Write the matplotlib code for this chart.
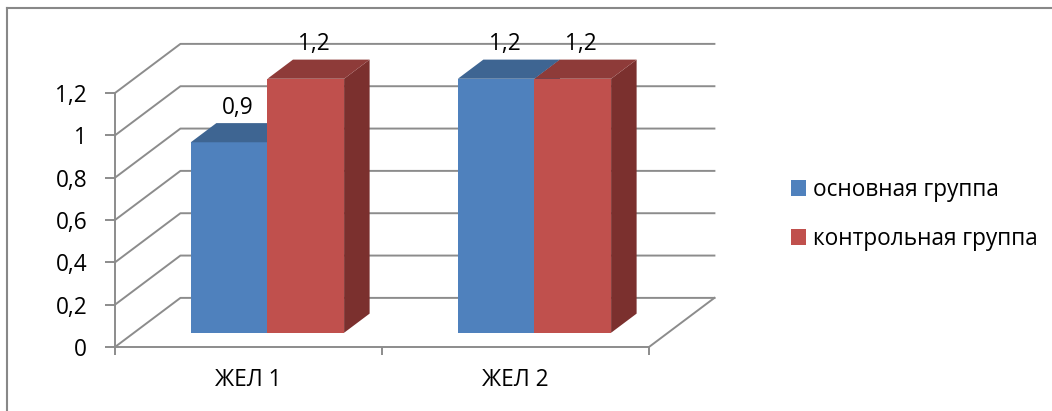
import matplotlib.pyplot as plt
from matplotlib.patches import Polygon, Patch
from matplotlib.lines import Line2D

plt.rcParams['font.family'] = ['Open Sans', 'DejaVu Sans']

# data
categories = ['ЖЕЛ 1', 'ЖЕЛ 2']
series_names = ['основная группа', 'контрольная группа']
osnovnaya = [0.9, 1.2]
kontrolnaya = [1.2, 1.2]
yticks = [0, 0.2, 0.4, 0.6, 0.8, 1.0, 1.2]
ytick_labels = ['0', '0,2', '0,4', '0,6', '0,8', '1', '1,2']

series = [osnovnaya, kontrolnaya]
front_colors = ['#4F81BD', '#C0504D']
top_colors = ['#3E6592', '#8E3B39']
side_colors = ['#365A84', '#7B302E']
grid_gray = '#8C8C8C'
fs = 16.3

# fake 3d: full depth offset in data units, bar placement in depth
DX, DY = 0.245, 0.232
D0, D1 = 0.29, 0.68
W = 0.287


def shift(x, y, d):
    return (x + d * DX, y + d * DY)


fig = plt.figure(figsize=(10.52, 4.11), dpi=100)
ax = fig.add_axes([115 / 1052, 64 / 411, 534 / 1052, 254 / 411])
ax.set_xlim(0, 2)
ax.set_ylim(0, 1.2)
ax.patch.set_visible(False)

# walls: back grid and side wall diagonals
for v in yticks:
    p0 = (0, v)
    p1 = shift(0, v, 1)
    p2 = shift(2, v, 1)
    ax.plot([p0[0], p1[0], p2[0]], [p0[1], p1[1], p2[1]], color=grid_gray,
            lw=1.4, clip_on=False, zorder=1)
# floor right edge
p1 = shift(2, 0, 1)
ax.plot([2, p1[0]], [0, p1[1]], color=grid_gray, lw=1.4, clip_on=False, zorder=1)

# bars
for i, cat in enumerate(categories):
    for j, vals in enumerate(series):
        v = vals[i]
        x0 = i + 0.5 - W + j * W
        x1 = x0 + W
        front = [shift(x0, 0, D0), shift(x1, 0, D0), shift(x1, v, D0), shift(x0, v, D0)]
        top = [shift(x0, v, D0), shift(x1, v, D0), shift(x1, v, D1), shift(x0, v, D1)]
        side = [shift(x1, 0, D0), shift(x1, 0, D1), shift(x1, v, D1), shift(x1, v, D0)]
        for pts, c in [(side, side_colors[j]), (front, front_colors[j]), (top, top_colors[j])]:
            ax.add_patch(Polygon(pts, closed=True, facecolor=c, edgecolor='none',
                                 clip_on=False, zorder=3 + i * 2 + j))
        cx, cy = shift(x0 + W / 2, v, (D0 + D1) / 2)
        ax.annotate(f'{v:g}'.replace('.', ','), xy=(cx, cy), xytext=(-3, 18),
                    textcoords='offset points', ha='center', va='center',
                    fontsize=fs, annotation_clip=False, zorder=10)

# axes
for s in ['top', 'right']:
    ax.spines[s].set_visible(False)
for s in ['left', 'bottom']:
    ax.spines[s].set_color(grid_gray)
    ax.spines[s].set_linewidth(1.4)
ax.set_yticks(yticks, ytick_labels)
ax.tick_params(axis='y', direction='out', length=7, width=1.4, color=grid_gray,
               pad=13, labelsize=fs)
ax.set_xticks([0, 1, 2], ['', '', ''])
ax.set_xticks([0.5, 1.5], categories, minor=True)
ax.tick_params(axis='x', which='major', direction='out', length=6, width=1.4,
               color=grid_gray)
ax.tick_params(axis='x', which='minor', length=0, pad=15, labelsize=fs)

# legend
handles = [Patch(facecolor=c, edgecolor='none') for c in front_colors]
fig.legend(handles, series_names, loc='center left', bbox_to_anchor=(791 / 1052, 1 - 214.5 / 411),
           frameon=False, fontsize=fs, borderpad=0, borderaxespad=0,
           handlelength=0.66, handleheight=0.66, handletextpad=0.3, labelspacing=1.1)

# outer frame (top and left edges)
fig.add_artist(Line2D([7 / 1052, 1], [1 - 8 / 411, 1 - 8 / 411], transform=fig.transFigure,
                      color='#888888', lw=1.5))
fig.add_artist(Line2D([7 / 1052, 7 / 1052], [0, 1 - 8 / 411], transform=fig.transFigure,
                      color='#888888', lw=1.5))

fig.savefig('out.png', dpi=100, facecolor='white')
